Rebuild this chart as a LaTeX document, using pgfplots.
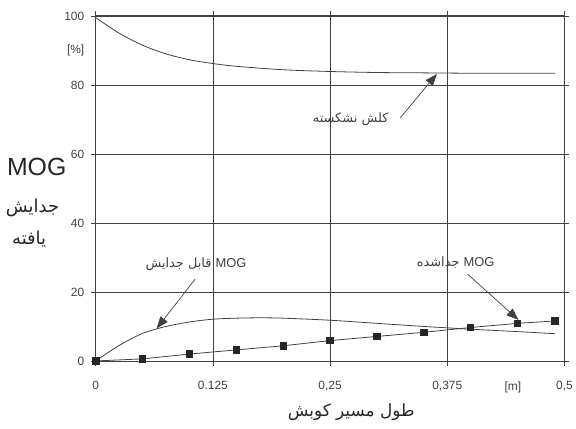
\documentclass[border=0pt]{standalone}
\usepackage{pgfplots}
\pgfplotsset{compat=1.18}
\usetikzlibrary{arrows.meta}
\usepackage{fontspec}
\setmainfont{Liberation Sans}
\newfontfamily\arabicfont[Script=Arabic]{DejaVu Sans}
\TeXXeTstate=1
\definecolor{ink}{gray}{0.25}
\begin{document}
\begin{tikzpicture}
\begin{axis}[
  scale only axis, width=470bp, height=346bp,
  xmin=0, xmax=0.5, ymin=0, ymax=100,
  xtick={0,0.125,0.25,0.375,0.5},
  xticklabels={0,0.125,{0,25},{0,375},{0,5}},
  ytick={0,20,40,60,80,100},
  yticklabels={0,20,40,60,80,100},
  extra x ticks={0.445}, extra x tick labels={[m]},
  extra x tick style={grid=none, tick style={draw=none}},
  extra y ticks={90}, extra y tick labels={[\%]},
  extra y tick style={grid=none, tick style={draw=none}},
  grid=major, major grid style={ink, line width=0.8pt},
  axis line style={ink, line width=0.9pt},
  tick align=outside, major tick length=5bp, tick style={ink, line width=0.8pt},
  tick label style={font=\fontsize{12}{14}\selectfont, text=ink},
  xticklabel style={yshift=-12bp},
  yticklabel style={xshift=-3bp},
  clip=false,
]
% bounding box
\path (rel axis cs:-0.2043,-0.1965) rectangle (rel axis cs:1.0213,1.0462);

% unbroken straw (top curve)
\addplot[ink, line width=0.8pt, smooth] coordinates {
 (0,99.5) (0.025,95) (0.05,91.5) (0.075,89) (0.1,87.3) (0.125,86.2)
 (0.15,85.4) (0.2,84.4) (0.25,83.9) (0.3,83.6) (0.35,83.5) (0.4,83.4) (0.49,83.4)};

% separable MOG
\addplot[ink, line width=0.8pt, smooth] coordinates {
 (0,0) (0.025,4.5) (0.05,8) (0.075,10) (0.1,11.3) (0.125,12.1) (0.15,12.4)
 (0.175,12.5) (0.2,12.4) (0.25,11.8) (0.3,10.9) (0.35,10) (0.375,9.6)
 (0.4,9.2) (0.45,8.5) (0.49,7.9)};

% separated MOG
\addplot[ink, line width=0.8pt, mark=square*, mark size=3.2bp, mark options={fill=black!85, draw=black!85}] coordinates {
 (0,0) (0.05,0.6) (0.1,2.0) (0.15,3.2) (0.2,4.4) (0.25,5.9) (0.3,7.1)
 (0.35,8.3) (0.4,9.7) (0.45,10.9) (0.49,11.6)};

% annotations
\draw[ink, line width=0.7pt, -{Triangle[length=12bp,width=9bp]}] (axis cs:0.325,70.5) -- (axis cs:0.364,83.2);
\node[text=ink, font=\fontsize{13}{15}\selectfont] at (axis cs:0.272,70) {\arabicfont\beginR کلش نشکسته\endR};

\draw[ink, line width=0.7pt, -{Triangle[length=12bp,width=9bp]}] (axis cs:0.106,23.7) -- (axis cs:0.065,9.4);
\node[text=ink, font=\fontsize{13}{15}\selectfont] at (axis cs:0.107,28) {\arabicfont\beginR {\rmfamily MOG} قابل جدایش\endR};

\draw[ink, line width=0.7pt, -{Triangle[length=12bp,width=9bp]}] (axis cs:0.397,25.1) -- (axis cs:0.451,11.9);
\node[text=ink, font=\fontsize{13}{15}\selectfont] at (axis cs:0.384,28.6) {\arabicfont\beginR {\rmfamily MOG} جداشده\endR};

% axis labels
\node[text=black!85, font=\fontsize{25}{28}\selectfont] at (axis description cs:-0.126,0.561) {MOG};
\node[text=black!85, font=\fontsize{18}{20}\selectfont] at (axis description cs:-0.135,0.445) {\arabicfont\beginR جدایش\endR};
\node[text=black!85, font=\fontsize{18}{20}\selectfont] at (axis description cs:-0.142,0.353) {\arabicfont\beginR یافته\endR};
\node[text=black!85, font=\fontsize{17}{20}\selectfont] at (axis description cs:0.545,-0.147) {\arabicfont\beginR طول مسیر کوبش\endR};
\end{axis}
\end{tikzpicture}
\end{document}
